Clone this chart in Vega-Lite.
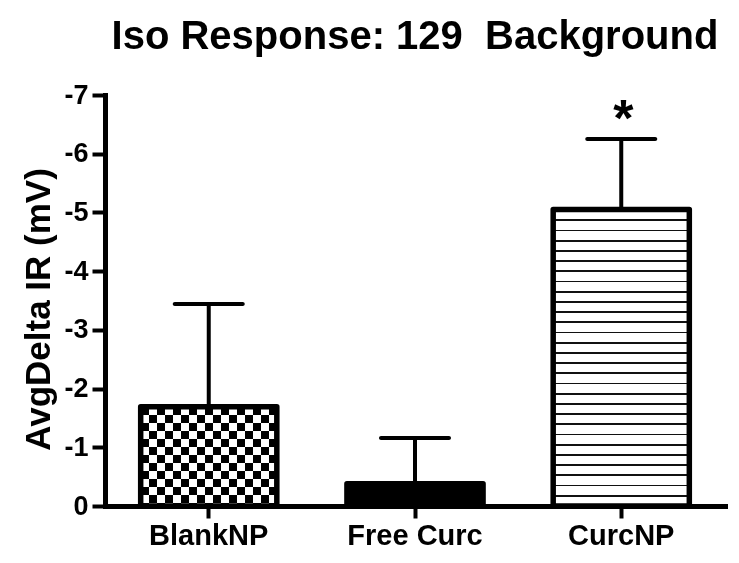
{
  "$schema": "https://vega.github.io/schema/vega-lite/v6.json",
  "width": 620,
  "height": 411,
  "autosize": {"type": "none"},
  "padding": {"left": 105, "top": 95, "right": 14, "bottom": 57},
  "background": "white",
  "title": {
    "text": "Iso Response: 129\u00a0 Background",
    "font": "Liberation Sans",
    "fontWeight": "bold",
    "fontSize": 40,
    "color": "black",
    "anchor": "middle",
    "offset": 24
  },
  "config": {
    "view": {"stroke": null},
    "axis": {
      "grid": false,
      "domainColor": "black",
      "domainWidth": 5,
      "domainCap": "square",
      "tickColor": "black",
      "tickWidth": 4,
      "tickSize": 13,
      "labelColor": "black",
      "labelFont": "Liberation Sans",
      "labelFontWeight": "bold",
      "titleColor": "black",
      "titleFont": "Liberation Sans",
      "titleFontWeight": "bold"
    }
  },
  "data": {
    "values": [
      {"group": "BlankNP", "mean": -1.69, "upper": -3.44, "sig": ""},
      {"group": "Free Curc", "mean": -0.38, "upper": -1.16, "sig": ""},
      {"group": "CurcNP", "mean": -5.05, "upper": -6.25, "sig": "*"}
    ]
  },
  "encoding": {
    "x": {
      "field": "group",
      "type": "nominal",
      "sort": ["BlankNP", "Free Curc", "CurcNP"],
      "scale": {"domain": ["BlankNP", "Free Curc", "CurcNP"], "paddingInner": 0.34, "paddingOuter": 0.173},
      "axis": {"title": null, "labelAngle": 0, "labelFontSize": 29, "labelPadding": 3, "tickSize": 12}
    },
    "y": {
      "field": "mean",
      "type": "quantitative",
      "title": "AvgDelta IR (mV)",
      "scale": {"domain": [0, -7], "nice": false, "zero": false},
      "axis": {
        "values": [0, -1, -2, -3, -4, -5, -6, -7],
        "labelExpr": "datum.value == 0 ? '0' : '-' + abs(datum.value)",
        "labelFontSize": 27,
        "labelPadding": 4,
        "titleFontSize": 35,
        "titleX": -67,
        "titleY": 214,
        "titleAngle": -90,
        "titleAlign": "center",
        "titleBaseline": "middle"
      }
    }
  },
  "layer": [
    {
      "transform": [{"filter": "datum.group == 'BlankNP'"}],
      "mark": {
        "type": "bar",
        "strokeWidth": 0,
        "fill": {
          "gradient": "linear", "x1": 0, "y1": 0, "x2": 0, "y2": 1,
          "stops": [
            {"offset": 0, "color": "black"}, {"offset": 0.0806, "color": "black"},
            {"offset": 0.0806, "color": "white"}, {"offset": 0.1613, "color": "white"},
            {"offset": 0.1613, "color": "black"}, {"offset": 0.2419, "color": "black"},
            {"offset": 0.2419, "color": "white"}, {"offset": 0.3226, "color": "white"},
            {"offset": 0.3226, "color": "black"}, {"offset": 0.4032, "color": "black"},
            {"offset": 0.4032, "color": "white"}, {"offset": 0.4839, "color": "white"},
            {"offset": 0.4839, "color": "black"}, {"offset": 0.5645, "color": "black"},
            {"offset": 0.5645, "color": "white"}, {"offset": 0.6452, "color": "white"},
            {"offset": 0.6452, "color": "black"}, {"offset": 0.7258, "color": "black"},
            {"offset": 0.7258, "color": "white"}, {"offset": 0.8065, "color": "white"},
            {"offset": 0.8065, "color": "black"}, {"offset": 0.8871, "color": "black"},
            {"offset": 0.8871, "color": "white"}, {"offset": 0.9677, "color": "white"},
            {"offset": 0.9677, "color": "black"}, {"offset": 1, "color": "black"}
          ]
        }
      }
    },
    {
      "transform": [{"filter": "datum.group == 'BlankNP'"}],
      "mark": {
        "type": "bar",
        "strokeWidth": 0,
        "blend": "difference",
        "fill": {
          "gradient": "linear", "x1": 0, "y1": 0, "x2": 1, "y2": 0,
          "stops": [
            {"offset": 0, "color": "rgba(255,255,255,0)"}, {"offset": 0.0588, "color": "rgba(255,255,255,0)"},
            {"offset": 0.0588, "color": "white"}, {"offset": 0.1176, "color": "white"},
            {"offset": 0.1176, "color": "rgba(255,255,255,0)"}, {"offset": 0.1765, "color": "rgba(255,255,255,0)"},
            {"offset": 0.1765, "color": "white"}, {"offset": 0.2353, "color": "white"},
            {"offset": 0.2353, "color": "rgba(255,255,255,0)"}, {"offset": 0.2941, "color": "rgba(255,255,255,0)"},
            {"offset": 0.2941, "color": "white"}, {"offset": 0.3529, "color": "white"},
            {"offset": 0.3529, "color": "rgba(255,255,255,0)"}, {"offset": 0.4118, "color": "rgba(255,255,255,0)"},
            {"offset": 0.4118, "color": "white"}, {"offset": 0.4706, "color": "white"},
            {"offset": 0.4706, "color": "rgba(255,255,255,0)"}, {"offset": 0.5294, "color": "rgba(255,255,255,0)"},
            {"offset": 0.5294, "color": "white"}, {"offset": 0.5882, "color": "white"},
            {"offset": 0.5882, "color": "rgba(255,255,255,0)"}, {"offset": 0.6471, "color": "rgba(255,255,255,0)"},
            {"offset": 0.6471, "color": "white"}, {"offset": 0.7059, "color": "white"},
            {"offset": 0.7059, "color": "rgba(255,255,255,0)"}, {"offset": 0.7647, "color": "rgba(255,255,255,0)"},
            {"offset": 0.7647, "color": "white"}, {"offset": 0.8235, "color": "white"},
            {"offset": 0.8235, "color": "rgba(255,255,255,0)"}, {"offset": 0.8824, "color": "rgba(255,255,255,0)"},
            {"offset": 0.8824, "color": "white"}, {"offset": 0.9412, "color": "white"},
            {"offset": 0.9412, "color": "rgba(255,255,255,0)"}, {"offset": 1, "color": "rgba(255,255,255,0)"}
          ]
        }
      }
    },
    {
      "transform": [{"filter": "datum.group == 'CurcNP'"}],
      "mark": {
        "type": "bar",
        "strokeWidth": 0,
        "fill": {
          "gradient": "linear", "x1": 0, "y1": 0, "x2": 0, "y2": 1,
          "stops": [
            {"offset": 0, "color": "white"},
            {"offset": 0.0331, "color": "white"}, {"offset": 0.0331, "color": "#111"}, {"offset": 0.0398, "color": "#111"}, {"offset": 0.0398, "color": "white"},
            {"offset": 0.0675, "color": "white"}, {"offset": 0.0675, "color": "#111"}, {"offset": 0.0742, "color": "#111"}, {"offset": 0.0742, "color": "white"},
            {"offset": 0.1019, "color": "white"}, {"offset": 0.1019, "color": "#111"}, {"offset": 0.1086, "color": "#111"}, {"offset": 0.1086, "color": "white"},
            {"offset": 0.1363, "color": "white"}, {"offset": 0.1363, "color": "#111"}, {"offset": 0.1430, "color": "#111"}, {"offset": 0.1430, "color": "white"},
            {"offset": 0.1707, "color": "white"}, {"offset": 0.1707, "color": "#111"}, {"offset": 0.1774, "color": "#111"}, {"offset": 0.1774, "color": "white"},
            {"offset": 0.2051, "color": "white"}, {"offset": 0.2051, "color": "#111"}, {"offset": 0.2118, "color": "#111"}, {"offset": 0.2118, "color": "white"},
            {"offset": 0.2395, "color": "white"}, {"offset": 0.2395, "color": "#111"}, {"offset": 0.2462, "color": "#111"}, {"offset": 0.2462, "color": "white"},
            {"offset": 0.2739, "color": "white"}, {"offset": 0.2739, "color": "#111"}, {"offset": 0.2806, "color": "#111"}, {"offset": 0.2806, "color": "white"},
            {"offset": 0.3083, "color": "white"}, {"offset": 0.3083, "color": "#111"}, {"offset": 0.3150, "color": "#111"}, {"offset": 0.3150, "color": "white"},
            {"offset": 0.3427, "color": "white"}, {"offset": 0.3427, "color": "#111"}, {"offset": 0.3494, "color": "#111"}, {"offset": 0.3494, "color": "white"},
            {"offset": 0.3771, "color": "white"}, {"offset": 0.3771, "color": "#111"}, {"offset": 0.3838, "color": "#111"}, {"offset": 0.3838, "color": "white"},
            {"offset": 0.4115, "color": "white"}, {"offset": 0.4115, "color": "#111"}, {"offset": 0.4182, "color": "#111"}, {"offset": 0.4182, "color": "white"},
            {"offset": 0.4459, "color": "white"}, {"offset": 0.4459, "color": "#111"}, {"offset": 0.4526, "color": "#111"}, {"offset": 0.4526, "color": "white"},
            {"offset": 0.4803, "color": "white"}, {"offset": 0.4803, "color": "#111"}, {"offset": 0.4870, "color": "#111"}, {"offset": 0.4870, "color": "white"},
            {"offset": 0.5147, "color": "white"}, {"offset": 0.5147, "color": "#111"}, {"offset": 0.5214, "color": "#111"}, {"offset": 0.5214, "color": "white"},
            {"offset": 0.5491, "color": "white"}, {"offset": 0.5491, "color": "#111"}, {"offset": 0.5558, "color": "#111"}, {"offset": 0.5558, "color": "white"},
            {"offset": 0.5835, "color": "white"}, {"offset": 0.5835, "color": "#111"}, {"offset": 0.5902, "color": "#111"}, {"offset": 0.5902, "color": "white"},
            {"offset": 0.6179, "color": "white"}, {"offset": 0.6179, "color": "#111"}, {"offset": 0.6246, "color": "#111"}, {"offset": 0.6246, "color": "white"},
            {"offset": 0.6523, "color": "white"}, {"offset": 0.6523, "color": "#111"}, {"offset": 0.6590, "color": "#111"}, {"offset": 0.6590, "color": "white"},
            {"offset": 0.6867, "color": "white"}, {"offset": 0.6867, "color": "#111"}, {"offset": 0.6934, "color": "#111"}, {"offset": 0.6934, "color": "white"},
            {"offset": 0.7211, "color": "white"}, {"offset": 0.7211, "color": "#111"}, {"offset": 0.7278, "color": "#111"}, {"offset": 0.7278, "color": "white"},
            {"offset": 0.7555, "color": "white"}, {"offset": 0.7555, "color": "#111"}, {"offset": 0.7622, "color": "#111"}, {"offset": 0.7622, "color": "white"},
            {"offset": 0.7899, "color": "white"}, {"offset": 0.7899, "color": "#111"}, {"offset": 0.7966, "color": "#111"}, {"offset": 0.7966, "color": "white"},
            {"offset": 0.8243, "color": "white"}, {"offset": 0.8243, "color": "#111"}, {"offset": 0.8310, "color": "#111"}, {"offset": 0.8310, "color": "white"},
            {"offset": 0.8587, "color": "white"}, {"offset": 0.8587, "color": "#111"}, {"offset": 0.8654, "color": "#111"}, {"offset": 0.8654, "color": "white"},
            {"offset": 0.8931, "color": "white"}, {"offset": 0.8931, "color": "#111"}, {"offset": 0.8998, "color": "#111"}, {"offset": 0.8998, "color": "white"},
            {"offset": 0.9275, "color": "white"}, {"offset": 0.9275, "color": "#111"}, {"offset": 0.9342, "color": "#111"}, {"offset": 0.9342, "color": "white"},
            {"offset": 0.9619, "color": "white"}, {"offset": 0.9619, "color": "#111"}, {"offset": 0.9686, "color": "#111"}, {"offset": 0.9686, "color": "white"},
            {"offset": 1, "color": "white"}
          ]
        }
      }
    },
    {
      "transform": [{"filter": "datum.group == 'Free Curc'"}],
      "mark": {"type": "bar", "fill": "black", "strokeWidth": 0}
    },
    {
      "mark": {"type": "bar", "fill": "white", "fillOpacity": 0, "stroke": "black", "strokeWidth": 5.5, "strokeJoin": "round"}
    },
    {
      "mark": {"type": "rule", "color": "black", "strokeWidth": 4, "opacity": 1},
      "encoding": {
        "y": {"field": "mean", "type": "quantitative", "title": "AvgDelta IR (mV)"},
        "y2": {"field": "upper"}
      }
    },
    {
      "mark": {"type": "tick", "color": "black", "opacity": 1, "orient": "horizontal", "size": 72, "thickness": 4, "cornerRadius": 2},
      "encoding": {
        "y": {"field": "upper", "type": "quantitative", "title": "AvgDelta IR (mV)"}
      }
    },
    {
      "transform": [{"filter": "datum.sig != ''"}],
      "mark": {"type": "text", "font": "Liberation Sans", "fontWeight": "bold", "fontSize": 52, "color": "black", "baseline": "alphabetic", "align": "center", "dx": 2, "dy": -3},
      "encoding": {
        "y": {"field": "upper", "type": "quantitative", "title": "AvgDelta IR (mV)"},
        "text": {"field": "sig"}
      }
    }
  ]
}
